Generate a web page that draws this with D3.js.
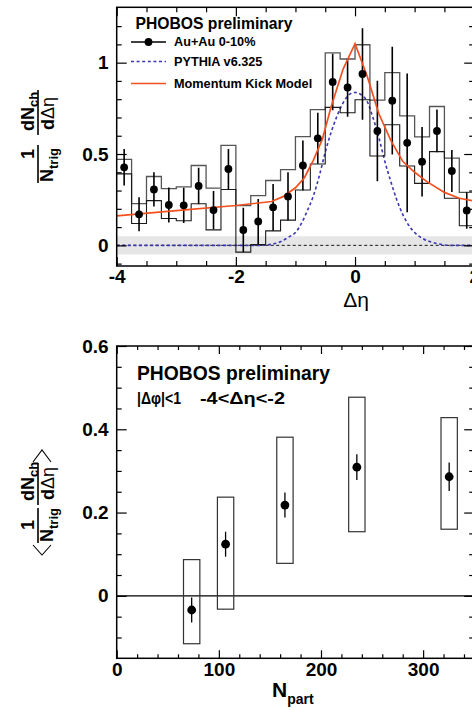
<!DOCTYPE html>
<html>
<head>
<meta charset="utf-8">
<script src="https://cdn.jsdelivr.net/npm/d3@7"></script>
<style>
  body { margin: 0; background: #fff; }
  svg { display: block; }
  text { font-family: "Liberation Sans", Arial, Helvetica, sans-serif; fill: #000; }
</style>
</head>
<body>
<svg id="chart" width="472" height="710"></svg>
<script>
// ---------- Δη distribution, Au+Au 0-10% ----------
const binEdges   = [-4, -3.75, -3.5, -3.25, -3, -2.75, -2.5, -2.25, -2, -1.75, -1.5, -1.25, -1,
                    -0.75, -0.5, -0.25, 0, 0.25, 0.5, 0.75, 1, 1.25, 1.5, 1.75, 2];
const binCenters = [-3.875, -3.625, -3.375, -3.125, -2.875, -2.625, -2.375, -2.125, -1.875, -1.625,
                    -1.375, -1.125, -0.875, -0.625, -0.375, -0.125, 0.125, 0.375, 0.625, 0.875,
                    1.125, 1.375, 1.625, 1.875];
const yieldVals  = [0.427, 0.170, 0.306, 0.221, 0.219, 0.325, 0.193, 0.418, 0.084, 0.131,
                    0.208, 0.268, 0.437, 0.586, 0.894, 0.864, 0.938, 0.626, 0.792, 0.561,
                    0.458, 0.626, 0.407, 0.191];
const yieldErr   = [0.100, 0.093, 0.094, 0.096, 0.096, 0.100, 0.105, 0.110, 0.122, 0.123,
                    0.128, 0.132, 0.137, 0.140, 0.155, 0.160, 0.250, 0.275, 0.295, 0.380,
                    0.190, 0.117, 0.115, 0.100];
const sysUpper   = [0.471, 0.228, 0.377, 0.311, 0.320, 0.437, 0.313, 0.547, 0.217, 0.272,
                    0.355, 0.415, 0.595, 0.743, 1.054, 1.020, 1.098, 0.795, 0.945, 0.709,
                    0.594, 0.760, 0.478, 0.290];
const sysLower   = [0.391, 0.120, 0.245, 0.147, 0.135, 0.228, 0.085, 0.306, -0.037, 0.005,
                    0.079, 0.138, 0.303, 0.445, 0.755, 0.726, 0.797, 0.489, 0.660, 0.434,
                    0.339, 0.513, 0.258, 0.107];
const zeroBand   = [-0.05, 0.05];

// PYTHIA v6.325 reference curve
const pythiaEta  = [-4, -1.6, -1.4, -1.25, -1.1, -1.0, -0.9, -0.8, -0.7, -0.6, -0.5, -0.4, -0.3,
                    -0.2, -0.1, 0, 0.1, 0.2, 0.3, 0.4, 0.5, 0.6, 0.7, 0.8, 0.9, 1.0, 1.15, 1.35, 1.6, 2];
const pythiaVals = [0, 0, 0.006, 0.02, 0.048, 0.07, 0.12, 0.19, 0.27, 0.38, 0.51, 0.62, 0.71,
                    0.78, 0.825, 0.837, 0.825, 0.79, 0.70, 0.59, 0.46, 0.35, 0.25, 0.17, 0.11,
                    0.07, 0.035, 0.012, 0, 0];

// Momentum Kick Model curve
const kickEta    = [-4, -3, -2, -1.4, -1.2, -1.0, -0.85, -0.7, -0.55, -0.4, -0.2, 0,
                    0.2, 0.4, 0.6, 0.8, 1.0, 1.2, 1.5, 1.75, 2];
const kickVals   = [0.161, 0.19, 0.218, 0.24, 0.268, 0.315, 0.37, 0.465, 0.58, 0.76, 0.965, 1.104,
                    0.93, 0.72, 0.575, 0.46, 0.40, 0.35, 0.29, 0.258, 0.243];

// ---------- centrality dependence of the long-range yield ----------
const nPart      = [73.4, 106.6, 164.7, 235.1, 325.5];
const nearYield  = [-0.034, 0.124, 0.218, 0.309, 0.286];
const nearErr    = [0.030, 0.030, 0.030, 0.031, 0.034];
const nearSysHi  = [0.087, 0.237, 0.381, 0.477, 0.428];
const nearSysLo  = [-0.115, -0.032, 0.078, 0.154, 0.160];
const nPartHalfWidth = 8;

// tick values and labels
const topXMajor = [-4, -2, 0, 2];
const topXMinor = [-3.5, -3, -2.5, -1.5, -1, -0.5, 0.5, 1, 1.5];
const topYMajor = [0, 0.5, 1];
const topYMinor = [-0.1, 0.1, 0.2, 0.3, 0.4, 0.6, 0.7, 0.8, 0.9, 1.1, 1.2];
const botXMajor = [0, 100, 200, 300];
const botXMinor = [20, 40, 60, 80, 120, 140, 160, 180, 220, 240, 260, 280, 320, 340];
const botYMajor = [0, 0.2, 0.4, 0.6];
const botYMinor = [-0.1, -0.05, 0.05, 0.1, 0.15, 0.25, 0.3, 0.35, 0.45, 0.5, 0.55];
const topXLabels = ["-4", "-2", "0", "2"];
const topYLabels = ["0", "0.5", "1"];
const botXLabels = ["0", "100", "200", "300"];
const botYLabels = ["0", "0.2", "0.4", "0.6"];

const legendLabels = ["Au+Au 0-10%", "PYTHIA v6.325", "Momentum Kick Model"];

const COL_KICK = "#f2501e";
const COL_PYTHIA = "#3a36b4";

const svg = d3.select("#chart");

// ---------- helpers ----------
function labelFrom(vals, labels) {
  return v => labels[vals.indexOf(v)];
}

function drawFrame(g, x, y, o) {
  const [L, R] = x.range();
  const [B, T] = y.range();
  const styleAxis = sel => {
    sel.select(".domain").remove();
    sel.selectAll(".tick line").attr("stroke", "#000").attr("stroke-width", 1.2);
    sel.attr("font-family", null).attr("font-size", null);
    sel.selectAll("text").attr("font-size", 19).attr("font-weight", "bold");
  };
  // left (labelled) and right (mirror)
  g.append("g").attr("transform", `translate(${L},0)`)
    .call(d3.axisLeft(y).tickValues(o.yMajor).tickSize(-o.yMajLen).tickPadding(8)
      .tickFormat(labelFrom(o.yMajor, o.yLabels))).call(styleAxis);
  g.append("g").attr("transform", `translate(${L},0)`)
    .call(d3.axisLeft(y).tickValues(o.yMinor).tickSize(-o.yMinLen).tickFormat("")).call(styleAxis);
  g.append("g").attr("transform", `translate(${R},0)`)
    .call(d3.axisRight(y).tickValues(o.yMajor).tickSize(-o.yMajLen).tickFormat("")).call(styleAxis);
  g.append("g").attr("transform", `translate(${R},0)`)
    .call(d3.axisRight(y).tickValues(o.yMinor).tickSize(-o.yMinLen).tickFormat("")).call(styleAxis);
  // bottom (labelled) and top (mirror)
  g.append("g").attr("transform", `translate(0,${B})`)
    .call(d3.axisBottom(x).tickValues(o.xMajor).tickSize(-o.xMajLen).tickPadding(4)
      .tickFormat(labelFrom(o.xMajor, o.xLabels))).call(styleAxis);
  g.append("g").attr("transform", `translate(0,${B})`)
    .call(d3.axisBottom(x).tickValues(o.xMinor).tickSize(-o.xMinLen).tickFormat("")).call(styleAxis);
  g.append("g").attr("transform", `translate(0,${T})`)
    .call(d3.axisTop(x).tickValues(o.xMajor).tickSize(-o.xMajLen).tickFormat("")).call(styleAxis);
  g.append("g").attr("transform", `translate(0,${T})`)
    .call(d3.axisTop(x).tickValues(o.xMinor).tickSize(-o.xMinLen).tickFormat("")).call(styleAxis);
  g.append("rect").attr("x", L).attr("y", T).attr("width", R - L).attr("height", B - T)
    .attr("fill", "none").attr("stroke", "#000").attr("stroke-width", 1.5);
}

// Rotated fraction-style axis title: 1/N_trig · dN_ch/dΔη
function yTitle(cx, cy, lay) {
  const g = svg.append("g").attr("transform", `translate(${cx},${cy}) rotate(-90)`);
  const bar = (x0, x1) => g.append("line").attr("x1", x0).attr("x2", x1).attr("y1", 0).attr("y2", 0)
    .attr("stroke", "#000").attr("stroke-width", 1.6);
  bar(lay.f1[0], lay.f1[1]);
  bar(lay.f2[0], lay.f2[1]);
  g.append("text").attr("x", lay.one).attr("y", -4).attr("text-anchor", "middle")
    .attr("font-size", 18).attr("font-weight", "bold").text("1");
  const n = g.append("text").attr("x", lay.f1[0] + 1).attr("y", 15)
    .attr("font-size", 18).attr("font-weight", "bold");
  n.append("tspan").text("N");
  n.append("tspan").attr("dy", 5).attr("font-size", 13).text("trig");
  const dn = g.append("text").attr("x", lay.f2[0] + 4).attr("y", -4)
    .attr("font-size", 18).attr("font-weight", "bold");
  dn.append("tspan").text("dN");
  dn.append("tspan").attr("dy", 4).attr("font-size", 13).text("ch");
  const de = g.append("text").attr("x", lay.f2[0] + 5).attr("y", 16).attr("font-size", 18);
  de.append("tspan").attr("font-weight", "bold").text("d");
  de.append("tspan").attr("font-weight", "normal").text("Δη");
  if (lay.brackets) {
    const [a, b] = lay.brackets;
    g.append("path").attr("d", `M${a + 10},-5 L${a},4 L${a + 10},13`)
      .attr("fill", "none").attr("stroke", "#000").attr("stroke-width", 1.1);
    g.append("path").attr("d", `M${b - 12},-5 L${b},4 L${b - 12},13`)
      .attr("fill", "none").attr("stroke", "#000").attr("stroke-width", 1.1);
  }
}

// ================= upper panel =================
const xT = d3.scaleLinear().domain([-4, 2]).range([116.7, 474.2]);
const yT = d3.scaleLinear().domain([-0.113, 1.303]).range([266, 7.3]);
const gT = svg.append("g");

svg.append("clipPath").attr("id", "clipTop").append("rect")
  .attr("x", xT.range()[0]).attr("y", yT.range()[1])
  .attr("width", xT.range()[1] - xT.range()[0]).attr("height", yT.range()[0] - yT.range()[1]);
const plotT = gT.append("g").attr("clip-path", "url(#clipTop)");

// reference band around zero
plotT.append("rect")
  .attr("x", xT(-4)).attr("width", xT(2) - xT(-4))
  .attr("y", yT(zeroBand[1])).attr("height", yT(zeroBand[0]) - yT(zeroBand[1]))
  .attr("fill", "#e6e6e6");
plotT.append("line")
  .attr("x1", xT(-4)).attr("x2", xT(2)).attr("y1", yT(0)).attr("y2", yT(0))
  .attr("stroke", "#000").attr("stroke-width", 0.9).attr("stroke-dasharray", "3,2.5");

// PYTHIA
plotT.append("path")
  .datum(pythiaEta.map((e, i) => [e, pythiaVals[i]]))
  .attr("d", d3.line().x(d => xT(d[0])).y(d => yT(d[1])).curve(d3.curveMonotoneX))
  .attr("fill", "none").attr("stroke", COL_PYTHIA).attr("stroke-width", 1.6)
  .attr("stroke-dasharray", "3,2.6");

// systematic envelopes as step histograms
const stepLine = d3.line().x(d => xT(d[0])).y(d => yT(d[1])).curve(d3.curveStepAfter);
const stepPts = arr => binEdges.map((e, i) => [e, arr[Math.min(i, arr.length - 1)]]);
plotT.append("path").datum(stepPts(sysUpper)).attr("d", stepLine)
  .attr("fill", "none").attr("stroke", "#555").attr("stroke-width", 1.3);
plotT.append("path").datum(stepPts(sysLower)).attr("d", stepLine)
  .attr("fill", "none").attr("stroke", "#1a1a1a").attr("stroke-width", 1.1);

// statistical error bars and points
plotT.selectAll("line.err").data(binCenters).join("line").attr("class", "err")
  .attr("x1", d => xT(d)).attr("x2", d => xT(d))
  .attr("y1", (d, i) => yT(yieldVals[i] + yieldErr[i]))
  .attr("y2", (d, i) => yT(yieldVals[i] - yieldErr[i]))
  .attr("stroke", "#000").attr("stroke-width", 1.6);

// Momentum Kick Model
plotT.append("path")
  .datum(kickEta.map((e, i) => [e, kickVals[i]]))
  .attr("d", d3.line().x(d => xT(d[0])).y(d => yT(d[1])))
  .attr("fill", "none").attr("stroke", COL_KICK).attr("stroke-width", 1.7);

plotT.selectAll("circle.pt").data(binCenters).join("circle").attr("class", "pt")
  .attr("cx", d => xT(d)).attr("cy", (d, i) => yT(yieldVals[i])).attr("r", 3.9).attr("fill", "#000");

drawFrame(gT, xT, yT, {
  xMajor: topXMajor, xMinor: topXMinor, xLabels: topXLabels,
  yMajor: topYMajor, yMinor: topYMinor, yLabels: topYLabels,
  xMajLen: 9, xMinLen: 5, yMajLen: 10, yMinLen: 5
});

// legend
gT.append("text").attr("x", 135.5).attr("y", 28.7).attr("font-size", 15.7)
  .attr("font-weight", "bold").text("PHOBOS preliminary");
const legY = [42, 61.5, 83.5];
gT.append("line").attr("x1", 131).attr("x2", 166).attr("y1", legY[0]).attr("y2", legY[0])
  .attr("stroke", "#000").attr("stroke-width", 1.3);
gT.append("circle").attr("cx", 148.5).attr("cy", legY[0]).attr("r", 3.9).attr("fill", "#000");
gT.append("line").attr("x1", 131).attr("x2", 166).attr("y1", legY[1]).attr("y2", legY[1])
  .attr("stroke", COL_PYTHIA).attr("stroke-width", 1.6).attr("stroke-dasharray", "3,2.6");
gT.append("line").attr("x1", 131).attr("x2", 166).attr("y1", legY[2]).attr("y2", legY[2])
  .attr("stroke", COL_KICK).attr("stroke-width", 1.7);
legendLabels.forEach((t, i) => {
  gT.append("text").attr("x", 174).attr("y", legY[i] + 4.2).attr("font-size", 12.7)
    .attr("font-weight", "bold").text(t);
});

// axis titles
svg.append("text").attr("x", 356).attr("y", 307).attr("text-anchor", "middle")
  .attr("font-size", 21).text("Δη");
yTitle(38, 137, { f1: [-46, -8], f2: [2, 47], one: -17 });

// ================= lower panel =================
const xB = d3.scaleLinear().domain([0, 350]).range([116.7, 474.2]);
const yB = d3.scaleLinear().domain([-0.15, 0.6]).range([658.3, 346]);
const gB = svg.append("g");

gB.append("line").attr("x1", xB(0)).attr("x2", xB(350)).attr("y1", yB(0)).attr("y2", yB(0))
  .attr("stroke", "#000").attr("stroke-width", 1.1);

gB.selectAll("rect.sys").data(nPart).join("rect").attr("class", "sys")
  .attr("x", d => xB(d - nPartHalfWidth))
  .attr("width", d => xB(d + nPartHalfWidth) - xB(d - nPartHalfWidth))
  .attr("y", (d, i) => yB(nearSysHi[i]))
  .attr("height", (d, i) => yB(nearSysLo[i]) - yB(nearSysHi[i]))
  .attr("fill", "none").attr("stroke", "#333").attr("stroke-width", 1.2);

gB.selectAll("line.err").data(nPart).join("line").attr("class", "err")
  .attr("x1", d => xB(d)).attr("x2", d => xB(d))
  .attr("y1", (d, i) => yB(nearYield[i] + nearErr[i]))
  .attr("y2", (d, i) => yB(nearYield[i] - nearErr[i]))
  .attr("stroke", "#000").attr("stroke-width", 1.3);
gB.selectAll("circle.pt").data(nPart).join("circle").attr("class", "pt")
  .attr("cx", d => xB(d)).attr("cy", (d, i) => yB(nearYield[i])).attr("r", 4.4).attr("fill", "#000");

drawFrame(gB, xB, yB, {
  xMajor: botXMajor, xMinor: botXMinor, xLabels: botXLabels,
  yMajor: botYMajor, yMinor: botYMinor, yLabels: botYLabels,
  xMajLen: 8, xMinLen: 4, yMajLen: 10, yMinLen: 5
});

gB.append("text").attr("x", 137).attr("y", 380).attr("font-size", 19.3)
  .attr("font-weight", "bold").text("PHOBOS preliminary");
gB.append("text").attr("x", 137).attr("y", 404).attr("font-size", 16.5)
  .attr("font-weight", "bold").attr("textLength", 44).attr("lengthAdjust", "spacingAndGlyphs")
  .text("|Δφ|<1");
gB.append("text").attr("x", 200).attr("y", 404).attr("font-size", 16.5)
  .attr("font-weight", "bold").attr("textLength", 85).attr("lengthAdjust", "spacingAndGlyphs")
  .text("-4<Δη<-2");

const np = svg.append("text").attr("x", 272).attr("y", 697).attr("font-weight", "bold");
np.append("tspan").attr("font-size", 21).text("N");
np.append("tspan").attr("dy", 7).attr("font-size", 14).text("part");

yTitle(38, 502, { f1: [-41, -6], f2: [-3, 39], one: -23, brackets: [-53, 52] });
</script>
</body>
</html>
